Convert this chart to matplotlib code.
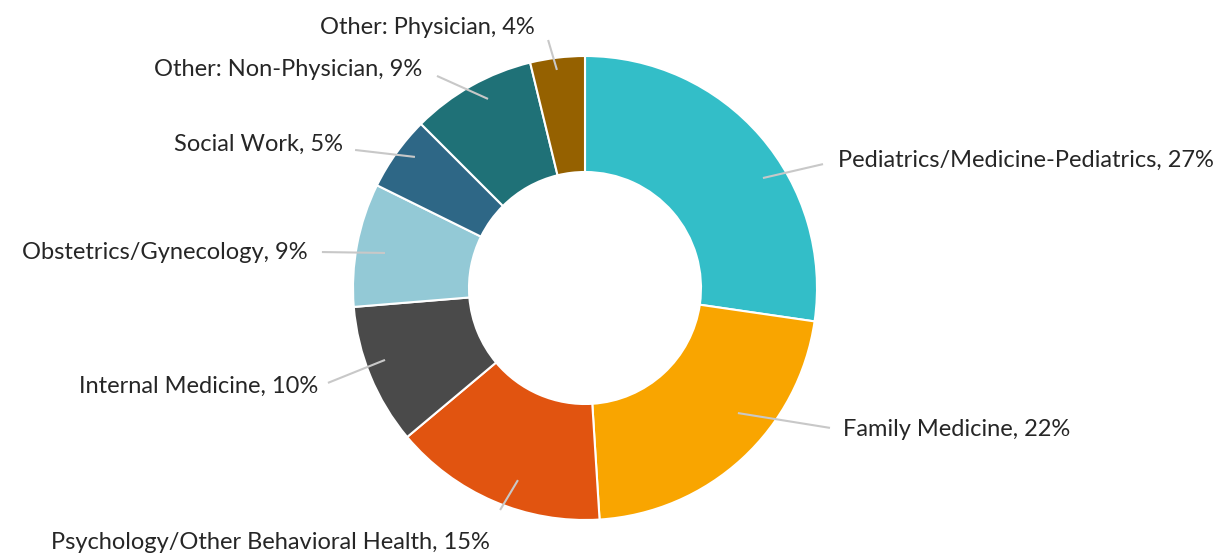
import matplotlib.pyplot as plt
import numpy as np

# specialty shares read from the donut (percent)
categories = ['Pediatrics/Medicine-Pediatrics', 'Family Medicine',
              'Psychology/Other Behavioral Health', 'Internal Medicine',
              'Obstetrics/Gynecology', 'Social Work',
              'Other: Non-Physician', 'Other: Physician']
shares = [27.3, 21.7, 14.9, 9.8, 8.6, 5.2, 8.7, 3.8]
pct_labels = ['27%', '22%', '15%', '10%', '9%', '5%', '9%', '4%']

colors = ['#33BEC8', '#F9A500', '#E15410', '#4A4A4A',
          '#93C9D6', '#2E6786', '#1F7177', '#956100']

# label layout (data units, radius of donut = 1): text anchor, alignment, leader start/end
text_pos = [(1.091, 0.552), (1.112, -0.612), (-1.355, -1.099), (-1.151, -0.422),
            (-1.194, 0.155), (-1.043, 0.621), (-0.703, 0.940), (-0.216, 1.121)]
text_ha = ['left', 'left', 'center', 'right', 'right', 'right', 'right', 'right']
line_start = [(0.767, 0.474), (0.659, -0.539), (-0.289, -0.828), (-0.862, -0.310),
              (-0.862, 0.151), (-0.733, 0.565), (-0.418, 0.815), (-0.121, 0.940)]
line_end = [(1.026, 0.534), (1.056, -0.603), (-0.366, -0.957), (-1.108, -0.409),
            (-1.134, 0.155), (-0.991, 0.595), (-0.638, 0.914), (-0.159, 1.069)]

plt.rcParams['font.family'] = ['Lato', 'DejaVu Sans']

fig = plt.figure(figsize=(12.28, 5.54), dpi=100)
ax = fig.add_axes([0, 0, 1, 1])

ax.pie(shares, colors=colors, startangle=90, counterclock=False,
       radius=1, wedgeprops=dict(width=0.5, edgecolor='white', linewidth=1.5))

for i in range(len(categories)):
    (x0, y0), (x1, y1) = line_start[i], line_end[i]
    ax.plot([x0, x1], [y0, y1], color='#C8C8C8', lw=1.5, solid_capstyle='butt')
    ax.text(text_pos[i][0], text_pos[i][1], categories[i] + ', ' + pct_labels[i],
            ha=text_ha[i], va='center', fontsize=17, color='#262626')

# center at (585, 288) px, radius 232 px
R = 232.0
ax.set_xlim(-585 / R, (1228 - 585) / R)
ax.set_ylim(-(554 - 288) / R, 288 / R)
ax.set_aspect('auto')
ax.axis('off')

fig.savefig('out.png', dpi=100)
